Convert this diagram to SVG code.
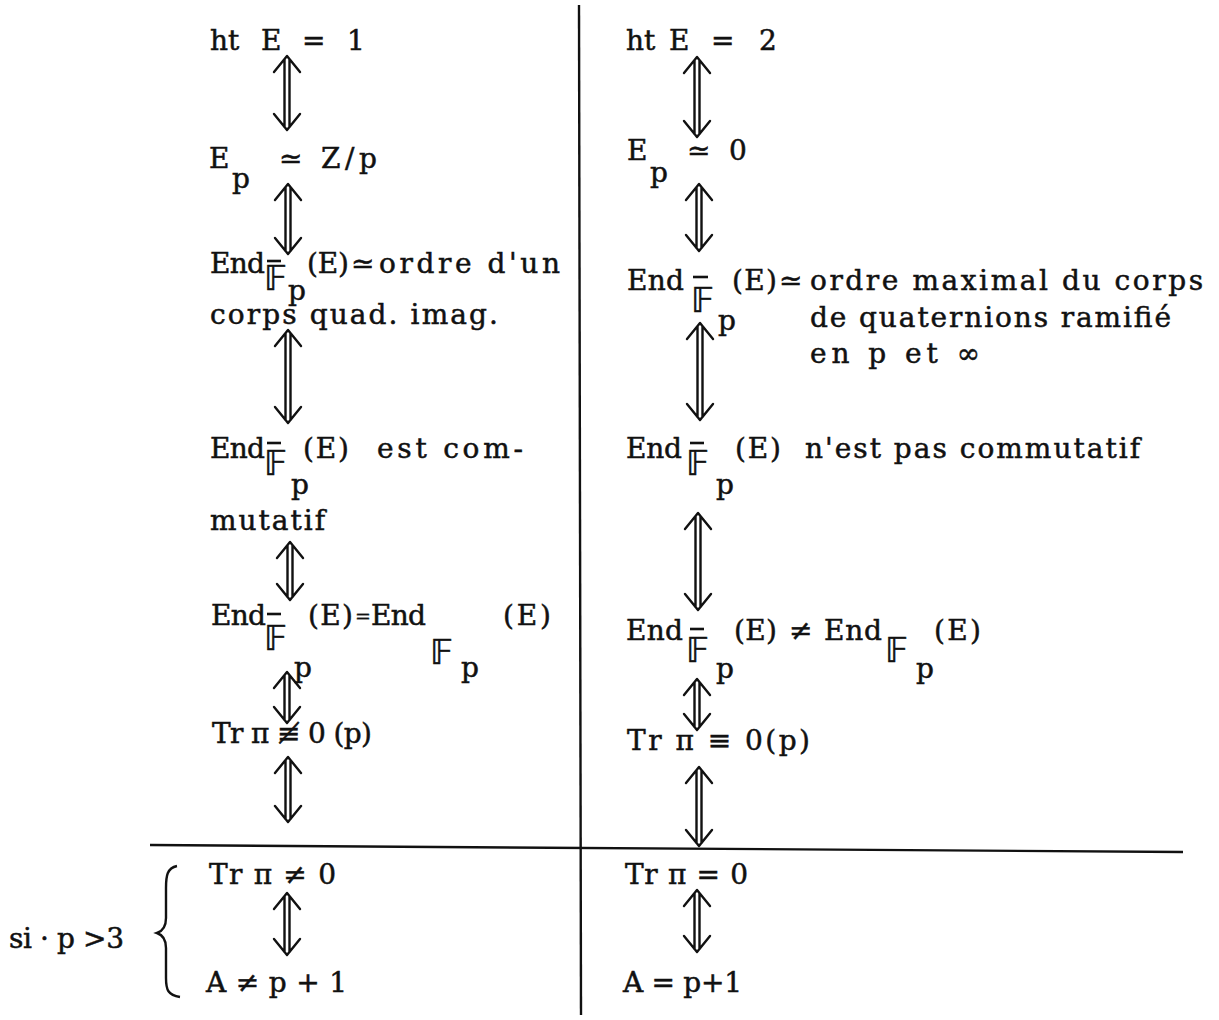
<svg xmlns="http://www.w3.org/2000/svg" width="1219" height="1020" viewBox="0 0 1219 1020">
<style>
.t{font-family:"DejaVu Serif","Liberation Serif",serif;font-size:28px;fill:#111;stroke:#111;stroke-width:0.5}
.s{font-family:"DejaVu Serif","Liberation Serif",serif;font-size:19px;fill:#111;stroke:#111;stroke-width:0.4}
.bb{font-family:"DejaVu Sans","DejaVu Serif","Noto Sans",sans-serif;font-size:34px;fill:#111;stroke:#111;stroke-width:0.5}
.bar{stroke:#111;stroke-width:2.6}
.rule{stroke:#111;stroke-width:2.4;fill:none}
.arr{stroke:#111;stroke-width:2.4;fill:none;stroke-linecap:round;stroke-linejoin:round}
</style>
<rect width="1219" height="1020" fill="#fff"/>
<g id="rules">
<line class="rule" x1="579" y1="5" x2="581" y2="1015"/>
<line class="rule" x1="150" y1="845" x2="1183" y2="852"/>
</g>
<g id="connectors">
<path class="arr" d="M284.5 59V127M289.5 59V127M274 72L287 56L300 72M274 114L287 130L300 114"/>
<path class="arr" d="M285.5 187V251M290.5 187V251M275 200L288 184L301 200M275 238L288 254L301 238"/>
<path class="arr" d="M285.5 333V420M290.5 333V420M275 346L288 330L301 346M275 407L288 423L301 407"/>
<path class="arr" d="M287.5 545V597M292.5 545V597M277 558L290 542L303 558M277 584L290 600L303 584"/>
<path class="arr" d="M284.5 675V720M289.5 675V720M274 688L287 672L300 688M274 707L287 723L300 707"/>
<path class="arr" d="M285.5 760V819M290.5 760V819M275 773L288 757L301 773M275 806L288 822L301 806"/>
<path class="arr" d="M284.5 896V952M289.5 896V952M274 909L287 893L300 909M274 939L287 955L300 939"/>
<path class="arr" d="M694.5 60V134M699.5 60V134M684 73L697 57L710 73M684 121L697 137L710 121"/>
<path class="arr" d="M696.5 187V248M701.5 187V248M686 200L699 184L712 200M686 235L699 251L712 235"/>
<path class="arr" d="M697.5 326V417M702.5 326V417M687 339L700 323L713 339M687 404L700 420L713 404"/>
<path class="arr" d="M695.5 516V607M700.5 516V607M685 529L698 513L711 529M685 594L698 610L711 594"/>
<path class="arr" d="M694.5 682V727M699.5 682V727M684 695L697 679L710 695M684 714L697 730L710 714"/>
<path class="arr" d="M696.5 770V843M701.5 770V843M686 783L699 767L712 783M686 830L699 846L712 830"/>
<path class="arr" d="M694.5 893V949M699.5 893V949M684 906L697 890L710 906M684 936L697 952L710 936"/>
</g>
<g id="L1">
<text class="t" x="210" y="50">ht</text><text class="t" x="261" y="50">E</text><text class="t" x="302" y="50">=</text><text class="t" x="347" y="50">1</text>
</g>
<g id="L2">
<text class="t" x="209" y="168">E</text><text class="t" x="232" y="188">p</text><text class="t" x="279" y="168">≃</text><text class="t" x="321" y="168" textLength="56" lengthAdjust="spacing">Z/p</text>
</g>
<g id="L3">
<text class="t" x="210" y="273" textLength="55" lengthAdjust="spacing">End</text>
<line class="bar" x1="267" y1="261" x2="281" y2="261"/>
<text class="bb" x="264" y="290">𝔽</text><text class="t" x="288" y="300">p</text>
<text class="t" x="307" y="273" textLength="42" lengthAdjust="spacing">(E)</text>
<text class="t" x="351" y="273">≃</text>
<text class="t" x="379" y="273" textLength="181" lengthAdjust="spacing">ordre d'un</text>
<text class="t" x="210" y="324" textLength="288" lengthAdjust="spacing">corps quad. imag.</text>
</g>
<g id="L4">
<text class="t" x="210" y="458" textLength="55" lengthAdjust="spacing">End</text>
<line class="bar" x1="267" y1="443" x2="281" y2="443"/>
<text class="bb" x="264" y="475">𝔽</text><text class="t" x="291" y="494">p</text>
<text class="t" x="303" y="458" textLength="46" lengthAdjust="spacing">(E)</text>
<text class="t" x="377" y="458" textLength="146" lengthAdjust="spacing">est com-</text>
<text class="t" x="210" y="530" textLength="115" lengthAdjust="spacing">mutatif</text>
</g>
<g id="L5">
<text class="t" x="211" y="625" textLength="55" lengthAdjust="spacing">End</text>
<line class="bar" x1="267" y1="614" x2="281" y2="614"/>
<text class="bb" x="264" y="650">𝔽</text><text class="t" x="294" y="677">p</text>
<text class="t" x="308" y="625" textLength="45" lengthAdjust="spacing">(E)</text>
<text class="s" x="355" y="623">=</text>
<text class="t" x="371" y="625" textLength="55" lengthAdjust="spacing">End</text>
<text class="bb" x="430" y="664">𝔽</text><text class="t" x="461" y="677">p</text>
<text class="t" x="503" y="625" textLength="48" lengthAdjust="spacing">(E)</text>
</g>
<g id="L6">
<text class="t" x="212" y="743" textLength="160" lengthAdjust="spacing">Tr π ≢ 0 (p)</text>
</g>
<g id="L7">
<text class="t" x="209" y="884" textLength="127" lengthAdjust="spacing">Tr π ≠ 0</text>
<text class="t" x="206" y="992" textLength="141" lengthAdjust="spacing">A ≠ p + 1</text>
</g>
<g id="condition">
<text class="t" x="9" y="948" textLength="115" lengthAdjust="spacing">si · p &gt;3</text>
<path class="rule" d="M177 866C167 868 166 876 166 888V918C166 926 163 931 157 933C163 935 166 940 166 948V978C166 990 168 995 180 997"/>
</g>
<g id="R1">
<text class="t" x="626" y="50">ht</text><text class="t" x="669" y="50">E</text><text class="t" x="711" y="50">=</text><text class="t" x="759" y="50">2</text>
</g>
<g id="R2">
<text class="t" x="627" y="160">E</text><text class="t" x="650" y="182">p</text><text class="t" x="687" y="160">≃</text><text class="t" x="729" y="160">0</text>
</g>
<g id="R3">
<text class="t" x="627" y="290" textLength="57" lengthAdjust="spacing">End</text>
<line class="bar" x1="693" y1="277" x2="708" y2="277"/>
<text class="bb" x="691" y="312">𝔽</text><text class="t" x="718" y="330">p</text>
<text class="t" x="732" y="290" textLength="45" lengthAdjust="spacing">(E)</text>
<text class="t" x="779" y="290">≃</text>
<text class="t" x="810" y="290" textLength="393" lengthAdjust="spacing">ordre maximal du corps</text>
<text class="t" x="810" y="327" textLength="361" lengthAdjust="spacing">de quaternions ramifié</text>
<text class="t" x="810" y="363" textLength="170" lengthAdjust="spacing">en p et ∞</text>
</g>
<g id="R4">
<text class="t" x="626" y="458" textLength="56" lengthAdjust="spacing">End</text>
<line class="bar" x1="690" y1="443" x2="704" y2="443"/>
<text class="bb" x="686" y="475">𝔽</text><text class="t" x="716" y="494">p</text>
<text class="t" x="735" y="458" textLength="46" lengthAdjust="spacing">(E)</text>
<text class="t" x="805" y="458" textLength="335" lengthAdjust="spacing">n'est pas commutatif</text>
</g>
<g id="R5">
<text class="t" x="626" y="640" textLength="57" lengthAdjust="spacing">End</text>
<line class="bar" x1="690" y1="629" x2="704" y2="629"/>
<text class="bb" x="686" y="662">𝔽</text><text class="t" x="716" y="678">p</text>
<text class="t" x="734" y="640" textLength="43" lengthAdjust="spacing">(E)</text>
<text class="t" x="789" y="640">≠</text>
<text class="t" x="824" y="640" textLength="58" lengthAdjust="spacing">End</text>
<text class="bb" x="885" y="662">𝔽</text><text class="t" x="916" y="678">p</text>
<text class="t" x="934" y="640" textLength="47" lengthAdjust="spacing">(E)</text>
</g>
<g id="R6">
<text class="t" x="627" y="750" textLength="183" lengthAdjust="spacing">Tr π ≡ 0(p)</text>
</g>
<g id="R7">
<text class="t" x="625" y="884" textLength="123" lengthAdjust="spacing">Tr π = 0</text>
<text class="t" x="623" y="992" textLength="119" lengthAdjust="spacing">A = p+1</text>
</g>
</svg>
